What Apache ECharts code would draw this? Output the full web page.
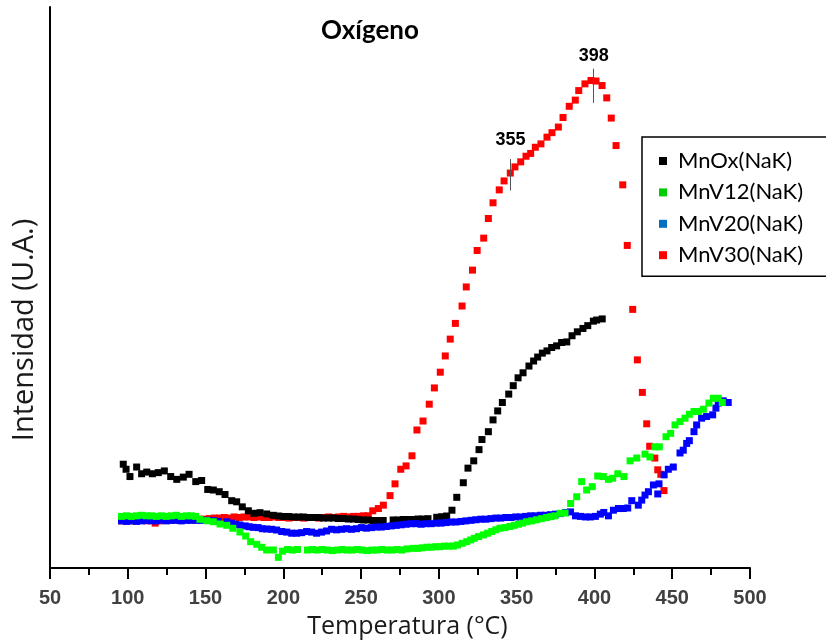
<!DOCTYPE html>
<html>
<head>
<meta charset="utf-8">
<script src="https://cdn.jsdelivr.net/npm/echarts@6/dist/echarts.min.js"></script>
<style>html,body{margin:0;padding:0;background:#fff}#c{width:826px;height:644px}</style>
</head>
<body>
<div id="c"></div>
<script>
const titleText = 'Oxígeno';
const xName = 'Temperatura (°C)';
const yName = 'Intensidad (U.A.)';
const seriesNames = ['MnOx(NaK)', 'MnV12(NaK)', 'MnV20(NaK)', 'MnV30(NaK)'];
const seriesColors = ['#000000', '#00ff00', '#0000ff', '#ff0000'];
const legendColors = ['#000000', '#00cc00', '#0070c0', '#ff0000'];
const xTicks = [50, 100, 150, 200, 250, 300, 350, 400, 450, 500];

const mnox = [
  [97.1,18.5],[98.9,17.6],[101.4,16.3],[105.7,18.0],[108.9,16.8],[112.2,17.1],[115.8,16.8],[119.6,17.0],
  [123.5,17.3],[127.6,16.3],[131.5,15.8],[135.7,16.2],[139.4,16.7],[143.7,15.4],[147.5,15.6],[151.4,14.0],
  [155.0,13.9],[158.8,13.6],[162.5,13.1],[166.8,12.0],[170.0,11.8],[173.6,10.9],[177.5,10.2],[181.1,9.75],
  [185.0,9.86],[189.3,9.63],[193.6,9.39],[197.0,9.27],[200.2,9.18],[203.4,9.18],[206.6,9.09],[209.8,9.09],
  [213.0,9.09],[216.2,9.0],[219.4,9.0],[222.6,9.0],[225.8,8.91],[229.0,8.91],[232.2,8.91],[235.4,8.82],
  [238.6,8.82],[241.8,8.73],[245.0,8.73],[248.2,8.65],[251.4,8.56],[254.6,8.56],[257.8,8.47],[261.0,8.47],
  [264.2,8.47],[270.6,8.56],[273.8,8.56],[277.0,8.65],[280.2,8.65],[283.4,8.65],[286.6,8.73],[289.8,8.73],
  [293.0,8.79],[298.6,9.04],[301.8,9.14],[305.0,9.27],[308.4,10.3],[311.5,12.6],[315.7,15.2],[318.7,17.8],
  [322.4,19.1],[325.8,21.1],[327.7,22.9],[331.8,24.3],[334.8,26.4],[337.8,28.0],[340.8,29.5],[344.9,31.0],
  [347.8,32.5],[350.9,33.9],[354.1,34.8],[357.9,36.0],[360.9,36.9],[363.5,37.6],[366.5,38.3],[369.5,38.7],
  [372.5,39.3],[375.7,39.6],[378.9,40.2],[382.2,40.3],[385.6,41.4],[389.0,42.1],[392.6,42.7],[395.7,43.2],
  [399.3,44.0],[401.4,44.2],[405.0,44.4]
];

const mnv12 = [
  [96.0,9.2],[99.2,9.3],[102.4,9.2],[105.6,9.3],[108.8,9.4],[112.0,9.3],[115.2,9.3],[118.4,9.2],[121.6,9.3],
  [124.8,9.2],[128.0,9.3],[131.2,9.4],[134.4,9.2],[137.6,9.3],[140.8,9.3],[143.6,9.2],[146.4,8.68],[150.7,8.43],
  [155.0,8.25],[159.3,7.84],[163.6,7.61],[167.5,7.08],[172.1,6.42],[175.8,5.70],[179.0,4.69],[182.9,4.22],
  [186.1,3.69],[189.3,3.21],[193.6,3.21],[196.8,1.9],[199.5,3.0],[202.7,3.3],[205.9,3.2],[209.1,3.3],
  [215.5,3.2],[218.7,3.3],[221.9,3.2],[225.1,3.3],[228.3,3.2],[231.5,3.1],[234.7,3.2],[237.9,3.3],[241.1,3.2],
  [244.3,3.2],[247.5,3.3],[250.7,3.2],[253.9,3.1],[257.1,3.2],[260.3,3.2],[263.5,3.3],[266.7,3.2],[269.9,3.2],
  [273.1,3.3],[276.3,3.2],[279.5,3.4],[283.6,3.5],[286.5,3.5],[289.3,3.6],[292.2,3.7],[295.0,3.7],[298.0,3.8],
  [300.7,3.8],[303.5,3.9],[306.4,3.9],[309.3,3.9],[312.0,4.1],[315.0,4.4],[317.9,4.7],[320.5,5.0],[322.8,5.3],
  [325.5,5.6],[328.6,5.9],[331.3,6.2],[334.0,6.5],[336.6,6.8],[339.3,7.1],[342.5,7.2],[345.7,7.4],[348.4,7.6],
  [351.1,7.8],[353.8,8.0],[356.5,8.25],[359.7,8.4],[362.9,8.6],[366.1,8.8],[369.3,9.0],[372.0,9.15],[374.6,9.3],
  [377.9,9.75],[381.1,9.8],[384.7,11.5],[388.6,12.7],[391.8,15.4],[395.0,13.9],[398.6,14.5],[402.1,16.4],
  [405.7,16.3],[409.0,15.8],[411.7,16.0],[415.0,16.8],[419.0,16.3],[422.9,19.1],[427.2,19.6],[432.5,20.3],
  [435.7,19.8],[438.9,21.6],[441.7,21.6],[446.0,23.4],[449.0,24.0],[451.8,25.5],[455.0,26.1],[458.2,26.7],
  [461.0,27.4],[464.0,27.9],[466.8,27.9],[470.0,28.3],[473.6,29.4],[476.4,30.25],[479.6,30.25],[482.2,29.5]
];

const mnv20 = [
  [96.0,8.4],[99.2,8.3],[102.4,8.4],[105.6,8.3],[108.8,8.4],[112.0,8.5],[115.2,8.4],[118.4,8.4],[121.6,8.5],
  [124.8,8.4],[128.0,8.5],[131.2,8.5],[134.4,8.4],[137.6,8.5],[140.8,8.5],[144.0,8.5],[147.2,8.5],[150.4,8.5],
  [155.0,8.43],[158.2,8.3],[163.6,8.25],[166.8,8.0],[169.4,7.8],[172.1,7.66],[175.5,7.5],[178.0,7.35],
  [180.7,7.25],[183.8,7.2],[186.5,7.0],[189.3,6.95],[192.5,6.9],[195.7,6.77],[199.0,6.5],[202.2,6.4],
  [205.4,6.2],[208.6,6.2],[211.8,6.3],[215.0,6.5],[218.2,6.4],[221.4,6.2],[224.6,6.4],[227.8,6.6],[231.0,6.9],
  [234.2,6.8],[237.4,6.9],[240.6,7.0],[243.8,6.9],[247.0,7.0],[250.2,7.2],[253.4,7.1],[256.6,7.2],[259.8,7.3],
  [263.0,7.3],[266.2,7.4],[269.4,7.5],[272.6,7.6],[275.8,7.7],[279.0,7.8],[282.2,7.9],[285.4,7.9],[288.6,7.8],
  [291.8,7.9],[295.0,7.9],[298.2,8.0],[301.4,8.0],[304.6,8.1],[307.8,8.2],[311.0,8.2],[314.2,8.3],[317.4,8.4],
  [320.6,8.5],[323.8,8.6],[327.0,8.7],[330.2,8.7],[333.4,8.8],[336.6,8.9],[339.8,8.9],[343.0,9.0],[346.2,9.0],
  [349.4,9.1],[352.6,9.1],[355.8,9.2],[359.0,9.3],[362.2,9.3],[365.4,9.4],[368.6,9.4],[371.8,9.5],[375.0,9.6],
  [378.2,9.7],[381.4,9.9],[384.6,10.0],[387.8,9.3],[391.0,9.2],[394.2,9.1],[397.4,9.1],[400.6,9.2],[403.8,9.6],
  [406.0,9.9],[409.0,9.3],[412.2,10.3],[415.4,10.6],[418.6,10.6],[421.4,10.7],[424.0,12.0],[428.2,11.2],
  [430.4,12.1],[432.5,13.0],[434.7,13.6],[437.9,14.8],[440.7,13.2],[441.5,15.0],[444.8,16.6],[447.5,17.6],
  [450.7,18.0],[455.0,20.5],[457.1,21.0],[459.3,22.2],[461.0,22.7],[464.0,24.3],[465.7,25.5],[468.9,26.7],
  [472.1,27.0],[476.0,27.3],[478.1,28.5],[479.6,29.4],[482.8,29.8],[486.0,29.5]
];

const mnv30 = [
  [96.0,8.4],[99.2,8.5],[102.4,8.4],[105.6,8.5],[108.8,8.5],[112.0,8.4],[117.6,8.0],[120.4,8.4],[123.6,8.5],
  [126.8,8.5],[130.0,8.6],[133.2,8.5],[136.4,8.6],[139.6,8.6],[142.8,8.6],[146.0,8.7],[149.2,8.7],[152.4,8.8],
  [155.6,8.9],[158.8,8.9],[162.0,9.0],[165.2,8.9],[168.4,9.1],[171.6,9.0],[174.8,9.1],[178.0,9.1],[181.2,9.0],
  [184.4,9.1],[187.6,9.0],[190.8,9.0],[194.0,9.1],[197.2,9.0],[200.4,9.0],[203.6,8.9],[206.8,9.0],[210.0,9.0],
  [213.2,8.9],[216.4,9.0],[219.6,9.0],[222.8,8.9],[226.0,9.0],[229.2,9.1],[232.4,9.0],[235.6,9.1],[238.8,9.2],
  [242.0,9.1],[245.2,9.2],[248.4,9.2],[251.6,9.3],[254.6,9.3],[257.5,10.2],[261.1,10.6],[264.3,11.2],[268.6,12.9],
  [271.8,15.0],[275.5,17.6],[278.9,18.2],[282.7,20.0],[285.9,24.6],[289.8,26.2],[293.8,29.2],[297.1,32.1],
  [300.9,34.9],[304.1,37.8],[307.3,40.8],[310.6,43.6],[314.9,46.7],[317.6,50.1],[321.6,53.1],[324.6,56.6],
  [328.8,58.8],[331.8,62.3],[334.8,65.1],[338.8,67.4],[341.9,69.0],[345.9,70.4],[348.9,71.5],[352.6,72.4],
  [356.0,73.4],[359.0,73.9],[362.0,75.0],[365.6,75.6],[369.5,76.8],[372.7,77.6],[376.8,78.6],[379.8,80.3],
  [383.8,82.3],[387.7,83.4],[389.9,85.1],[393.9,86.3],[397.8,86.9],[401.0,86.8],[404.9,86.0],[407.9,83.8],
  [410.8,80.2],[413.9,75.3],[418.2,68.3],[421.1,57.5],[424.6,46.1],[427.6,37.1],[430.8,31.3],[433.6,25.7],
  [435.5,21.7],[438.8,19.6],[440.7,17.5],[442.7,16.7],[444.7,13.8]
];

// annotations: marker line position (x, y from, y to) and text
const noteX = [346, 399.5];
const noteY0 = [67.3, 82.9];
const noteY1 = [72.9, 89.0];
const noteLabelY = [76.2, 91.2];
const noteText = ['355', '398'];

const seriesData = [mnox, mnv12, mnv20, mnv30];
const drawOrder = [3, 0, 2, 1];

const series = drawOrder.map(function (i) {
  const s = {
    name: seriesNames[i],
    type: 'scatter',
    data: seriesData[i],
    symbol: 'rect',
    symbolSize: 7,
    itemStyle: { color: seriesColors[i], opacity: 1 },
    emphasis: { disabled: true },
    animation: false
  };
  if (i === 3) {
    s.markLine = {
      silent: true,
      symbol: ['none', 'none'],
      lineStyle: { color: '#555', width: 1, type: 'solid' },
      label: { show: false },
      data: noteX.map(function (x, k) {
        return [{ coord: [x, noteY0[k]] }, { coord: [x, noteY1[k]] }];
      })
    };
    s.markPoint = {
      silent: true,
      symbol: 'rect',
      symbolSize: 1,
      itemStyle: { color: 'rgba(0,0,0,0)' },
      label: {
        show: true, position: 'inside', color: '#000',
        fontFamily: 'Liberation Sans', fontWeight: 'bold', fontSize: 18,
        formatter: function (p) { return p.name; }
      },
      data: noteX.map(function (x, k) {
        return { name: noteText[k], coord: [x, noteLabelY[k]] };
      })
    };
  }
  return s;
});

const chart = echarts.init(document.getElementById('c'), null, { renderer: 'canvas' });
chart.setOption({
  backgroundColor: '#ffffff',
  animation: false,
  title: {
    text: titleText,
    left: 370,
    textAlign: 'center',
    top: 18,
    padding: 0,
    textStyle: { fontFamily: 'Lato', fontWeight: 'bold', fontSize: 26, color: '#000' }
  },
  grid: { left: 50, right: 76, top: 7, bottom: 76 },
  legend: {
    orient: 'vertical',
    left: 642,
    top: 137,
    padding: [12, 60, 9, 17],
    itemGap: 7.4,
    itemWidth: 8,
    itemHeight: 8,
    icon: 'rect',
    borderColor: '#000',
    borderWidth: 1.5,
    borderRadius: 0,
    backgroundColor: '#fff',
    textStyle: { fontFamily: 'Lato', fontSize: 22, color: '#000', lineHeight: 24, padding: [0, 0, 0, 6] },
    data: seriesNames.map(function (n, i) { return { name: n, itemStyle: { color: legendColors[i] } }; })
  },
  xAxis: {
    type: 'value',
    min: 50, max: 500, interval: 50,
    name: xName,
    nameLocation: 'middle',
    nameGap: 46,
    nameTextStyle: { fontFamily: 'Open Sans', fontSize: 25, color: '#1a1a1a', padding: [0, 0, 0, 15] },
    axisLine: { show: true, onZero: false, lineStyle: { color: '#000', width: 2 } },
    axisTick: { show: true, inside: false, length: 11, lineStyle: { color: '#000', width: 2 } },
    minorTick: { show: true, splitNumber: 2, length: 7, lineStyle: { color: '#000', width: 2 } },
    axisLabel: {
      margin: 20, fontFamily: 'Liberation Sans', fontWeight: 'bold', fontSize: 20, color: '#404040',
      formatter: function (v) { return xTicks.indexOf(v) >= 0 ? String(v) : ''; }
    },
    splitLine: { show: false }
  },
  yAxis: {
    type: 'value',
    min: 0, max: 100,
    name: yName,
    nameLocation: 'middle',
    nameGap: 11,
    nameTextStyle: { fontFamily: 'Open Sans', fontSize: 29, color: '#1a1a1a', padding: [0, 85, 0, 0] },
    axisLine: { show: true, onZero: false, lineStyle: { color: '#000', width: 2 } },
    axisTick: { show: false },
    axisLabel: { show: false },
    splitLine: { show: false }
  },
  series: series
});
</script>
</body>
</html>
